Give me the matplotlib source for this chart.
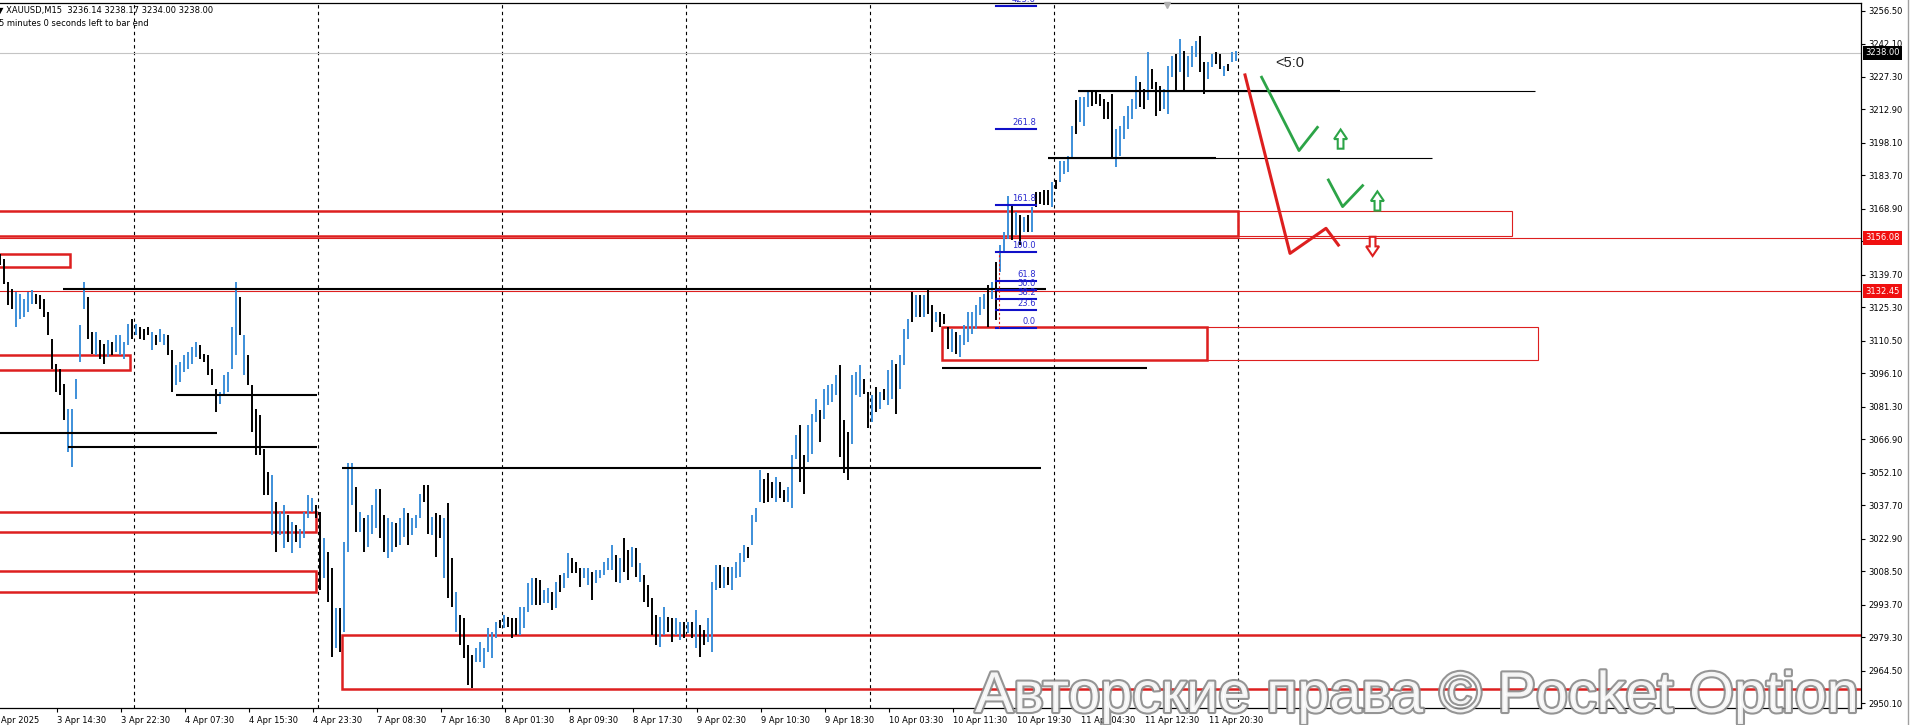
import numpy as np
import matplotlib.pyplot as plt
import matplotlib.patheffects as pe
from matplotlib.patches import Rectangle, Polygon
from matplotlib.lines import Line2D

# XAUUSD M15 - drawn as 30 minute bars (x unit = one M15 bar)
bar_hi = [
    3149.0, 3146.8, 3136.5, 3133.6, 3132.1, 3131.4, 3129.1, 3132.1, 3132.8, 3131.4,
    3130.6, 3129.1, 3123.2, 3111.5, 3100.4, 3098.2, 3091.6, 3080.5, 3080.5, 3093.8,
    3117.4, 3136.5, 3129.9, 3114.4, 3114.4, 3110.7, 3109.2, 3110.7, 3110.0, 3112.9,
    3112.9, 3110.0, 3118.1, 3120.3, 3118.1, 3116.6, 3115.9, 3116.6, 3114.4, 3112.9,
    3115.9, 3113.7, 3112.9, 3106.3, 3099.7, 3101.1, 3104.1, 3105.6, 3107.8, 3110.0,
    3108.5, 3104.8, 3104.1, 3098.2, 3089.3, 3087.9, 3095.2, 3096.7, 3116.6, 3136.5,
    3129.9, 3112.9, 3104.1, 3090.8, 3080.5, 3077.6, 3062.8, 3052.5, 3051.0, 3039.2,
    3034.8, 3037.8, 3033.3, 3030.4, 3028.9, 3027.4, 3034.8, 3042.2, 3040.7, 3037.8,
    3034.8, 3023.0, 3017.1,
    3009.8, 2992.1, 2992.1, 3021.6, 3056.2, 3056.2, 3045.9, 3034.8, 3031.9, 3033.3,
    3037.8, 3045.1, 3045.1, 3033.3, 3031.9, 3030.4, 3029.7, 3031.9, 3036.3, 3034.1,
    3031.9, 3033.3, 3042.9, 3046.6, 3046.6, 3032.6, 3034.1, 3033.3, 3031.9, 3038.5,
    3014.2, 2999.5, 2989.1, 2987.7, 2975.9, 2971.4, 2974.4, 2977.3, 2974.4, 2983.2,
    2981.8, 2986.2, 2986.9, 2989.1, 2988.4, 2987.7, 2987.7, 2992.8, 2992.8, 3003.1,
    3005.3, 3005.3, 3004.6, 3000.2, 3000.9, 2999.5, 3003.9, 3006.8, 3007.6, 3016.4,
    3014.2, 3012.7, 3009.8, 3009.8, 3009.8, 3008.3, 3009.0, 3009.0, 3012.7, 3014.2,
    3020.1, 3015.7, 3014.2, 3023.0, 3017.9, 3019.3, 3018.6, 3012.0, 3006.8, 3002.4,
    2996.5, 2989.1, 2988.4, 2992.8, 2988.4, 2987.6, 2987.6, 2986.2, 2986.2, 2986.2,
    2986.2, 2991.3, 2984.7, 2982.5, 2987.6, 3003.8, 3011.2, 3011.2, 3010.5, 3010.5,
    3010.5, 3012.7, 3016.4, 3020.1, 3019.3, 3033.3, 3036.3, 3053.2, 3049.5, 3051.8,
    3048.1, 3050.3, 3048.1, 3044.4, 3045.9, 3059.9, 3068.7, 3073.1, 3059.9, 3073.1,
    3078.3, 3084.9, 3079.8, 3089.3, 3090.8, 3091.5, 3095.2, 3099.6, 3075.3, 3070.2,
    3095.2, 3096.7, 3099.6, 3093.8, 3087.9, 3086.4, 3090.1, 3087.9, 3089.3, 3097.4,
    3101.9, 3100.4, 3104.1, 3115.9, 3120.3, 3132.1, 3130.6, 3130.6, 3130.6, 3132.8,
    3126.2, 3123.2, 3123.2, 3122.5, 3116.6, 3115.9, 3114.4, 3112.9, 3117.3, 3123.2,
    3123.2, 3126.2, 3129.9, 3131.4, 3135.0, 3136.5, 3145.4, 3152.7, 3158.6, 3174.8,
    3170.4, 3167.5, 3166.0, 3165.3, 3166.0, 3169.7, 3176.3, 3176.3, 3177.1, 3177.1,
    3180.7, 3181.5, 3190.3, 3190.3, 3192.5, 3205.8, 3216.9, 3218.3, 3218.3, 3220.5,
    3220.5, 3220.5, 3219.8, 3217.6, 3216.1, 3219.8, 3204.3, 3205.8, 3210.2, 3214.6,
    3217.6, 3227.9, 3225.0, 3222.0, 3238.2, 3230.8, 3225.0, 3223.5, 3222.0, 3232.3,
    3236.7, 3237.5, 3244.1, 3239.0, 3236.7, 3241.2, 3243.4, 3245.6, 3233.8, 3233.8,
    3237.5, 3238.2, 3237.5, 3232.3, 3233.1, 3238.2, 3239.0,
]
bar_lo = [
    3143.9, 3135.8, 3126.2, 3124.7, 3116.6, 3120.3, 3121.0, 3123.3, 3126.9, 3126.9,
    3124.7, 3121.0, 3112.9, 3098.2, 3087.9, 3086.4, 3075.3, 3061.3, 3054.7, 3084.9,
    3101.1, 3124.7, 3111.5, 3104.8, 3104.1, 3102.6, 3100.4, 3103.3, 3104.1, 3105.6,
    3104.1, 3102.6, 3108.5, 3111.5, 3112.9, 3111.5, 3110.7, 3112.9, 3106.3, 3108.5,
    3110.0, 3108.5, 3104.1, 3087.9, 3090.8, 3092.3, 3096.7, 3098.2, 3100.4, 3103.3,
    3102.6, 3101.1, 3095.2, 3090.8, 3079.0, 3082.7, 3086.4, 3087.9, 3098.2, 3104.1,
    3112.9, 3095.2, 3090.8, 3070.2, 3059.9, 3059.9, 3042.2, 3042.2, 3024.5, 3017.1,
    3024.5, 3018.6, 3021.5, 3016.4, 3021.5, 3018.6, 3023.0, 3031.9, 3034.8, 3031.9,
    3000.0, 3005.3, 2995.0,
    2970.7, 2974.4, 2972.9, 2981.8, 3017.1, 3037.8, 3026.0, 3026.0, 3017.1, 3019.3,
    3025.2, 3027.5, 3023.0, 3017.1, 3014.2, 3017.1, 3019.3, 3020.1, 3023.8, 3020.1,
    3024.5, 3027.5, 3031.9, 3039.3, 3025.2, 3024.5, 3014.9, 3023.0, 3005.3, 2996.5,
    2992.8, 2981.8, 2975.9, 2970.0, 2958.2, 2957.0, 2968.5, 2968.5, 2965.6, 2972.9,
    2970.0, 2978.8, 2983.2, 2983.2, 2984.0, 2978.8, 2980.3, 2980.3, 2983.2, 2990.6,
    2993.6, 2993.6, 2993.6, 2994.3, 2994.3, 2991.4, 2992.1, 2999.5, 3000.9, 3005.3,
    3007.6, 3007.6, 3001.7, 3005.3, 3002.4, 2995.8, 3003.1, 3005.3, 3006.8, 3009.0,
    3009.0, 3003.9, 3003.1, 3008.3, 3004.6, 3010.5, 3006.1, 3003.9, 2995.0, 2992.8,
    2980.3, 2975.9, 2975.1, 2980.3, 2981.7, 2977.3, 2980.3, 2978.1, 2978.8, 2981.0,
    2978.8, 2974.4, 2970.7, 2975.9, 2977.3, 2972.9, 3000.2, 3000.9, 3000.9, 3002.4,
    3000.2, 3005.3, 3006.1, 3012.7, 3014.2, 3020.1, 3030.4, 3039.2, 3038.5, 3039.2,
    3040.7, 3039.2, 3040.7, 3039.2, 3039.2, 3036.3, 3058.4, 3048.1, 3042.9, 3056.9,
    3060.6, 3074.6, 3065.8, 3076.1, 3082.0, 3083.4, 3086.4, 3059.1, 3051.8, 3048.8,
    3065.0, 3086.4, 3085.6, 3087.1, 3071.7, 3074.6, 3079.0, 3080.5, 3084.2, 3082.0,
    3084.9, 3078.3, 3089.3, 3099.6, 3111.4, 3118.8, 3121.0, 3121.0, 3121.0, 3122.5,
    3114.4, 3118.8, 3116.6, 3118.1, 3107.0, 3105.6, 3104.8, 3103.3, 3108.5, 3110.0,
    3113.7, 3115.9, 3121.8, 3124.7, 3116.6, 3129.1, 3119.6, 3140.9, 3149.8, 3155.7,
    3155.0, 3157.2, 3152.7, 3158.6, 3158.6, 3158.6, 3169.7, 3171.2, 3170.4, 3170.4,
    3169.7, 3177.8, 3180.7, 3184.4, 3185.2, 3191.1, 3202.1, 3207.3, 3205.8, 3213.9,
    3214.6, 3215.4, 3214.6, 3208.7, 3208.7, 3191.1, 3187.4, 3192.5, 3199.9, 3204.3,
    3208.7, 3213.2, 3213.9, 3213.2, 3216.9, 3222.0, 3210.2, 3212.4, 3213.2, 3211.0,
    3227.2, 3221.3, 3229.4, 3221.3, 3227.2, 3231.6, 3236.0, 3229.4, 3219.8, 3226.4,
    3231.6, 3233.1, 3230.8, 3227.9, 3230.1, 3233.8, 3234.5,
]
bar_dir = ("dddduuuuud" "ddddddduuu" "uudduddudu" "uuududddud" "uudduuuuuu"
           "ddddduuuuu" "duddddddud" "uududuuuud" "dud"
           "duduuududu" "uudduuduud" "uuudduddud" "dudddduuuu" "uududdduuu"
           "udduududuu" "ddduuduuuu" "ududdududd"
           "dduudduudu" "dudduuudud" "uuuuduuudd" "dudduuuddu" "uuduuuuddd"
           "uuuddududu" "uduuududud" "duddduduuu"
           "uuuududuuu" "dudududddd" "uduuuuduuu" "dddddduuuu" "uudduddduu"
           "ududuuuddu" "udduduu")

# axis
price_ticks = [3256.50, 3242.10, 3227.30, 3212.90, 3198.10, 3183.70, 3168.90, 3154.50,
               3139.70, 3125.30, 3110.50, 3096.10, 3081.30, 3066.90, 3052.10, 3037.70,
               3022.90, 3008.50, 2993.70, 2979.30, 2964.50, 2950.10]
time_ticks = [28.5, 60.5, 92.5, 124.5, 156.5, 188.5, 220.5, 252.5, 284.5, 316.5,
              348.5, 380.5, 412.5, 444.5, 476.5, 508.5, 540.5, 572.5, 604.5]
time_labels = ["3 Apr 14:30", "3 Apr 22:30", "4 Apr 07:30", "4 Apr 15:30", "4 Apr 23:30",
               "7 Apr 08:30", "7 Apr 16:30", "8 Apr 01:30", "8 Apr 09:30", "8 Apr 17:30",
               "9 Apr 02:30", "9 Apr 10:30", "9 Apr 18:30", "10 Apr 03:30", "10 Apr 11:30",
               "10 Apr 19:30", "11 Apr 04:30", "11 Apr 12:30", "11 Apr 20:30"]
day_separators = [67.2, 159.2, 251.2, 343.2, 435.2, 527.2, 619.2]

last_price = 3238.00
red_levels = [3156.08, 3132.45]

# zones: (start, end, low, high)
zones_thick = [(-5, 35, 3143.3, 3148.9), (-5, 65, 3097.6, 3104.2),
               (-5, 158, 3026.0, 3034.8), (-5, 158, 2999.4, 3008.7),
               (-5, 619, 3156.9, 3168.1), (471, 603.5, 3102.0, 3116.8),
               (170.8, 945, 2956.4, 2980.3)]
zones_thin = [(619, 756, 3156.9, 3168.1), (603.5, 769, 3102.0, 3116.8)]

# horizontal levels: (start, end, price, width)
levels = [(31.7, 522.8, 3133.5, 1.5), (88, 158.5, 3086.7, 1.5), (-5, 108.5, 3069.8, 1.5),
          (34, 158.5, 3063.3, 1.5), (170.8, 520.5, 3054.0, 1.5), (471, 573.3, 3098.6, 1.5),
          (524, 608, 3191.3, 1.5), (524, 716, 3191.3, 0.8),
          (539, 670, 3221.3, 1.5), (539, 767.5, 3221.3, 0.8)]

# fibonacci
fib_levels = [0.0, 23.6, 38.2, 50.0, 61.8, 100.0, 161.8, 261.8, 423.6]
fib_p0, fib_p100 = 3116.0, 3149.7
fib_x0, fib_x1 = 498, 518

# projections
red_path_t = [622.5, 645.0, 663.0, 669.2]
red_path_p = [3228.2, 3149.2, 3160.3, 3152.9]
green1_t = [630.8, 649.5, 658.7]
green1_p = [3227.2, 3194.7, 3205.0]
green2_t = [664.2, 671.3, 681.3]
green2_p = [3181.7, 3169.9, 3179.2]
arrow_t = [670.3, 688.7, 686.3]
arrow_p = [3199.8, 3172.4, 3152.3]
arrow_up = [True, True, False]

UP_C = '#3d8fd9'
RED = '#dd1f1f'
GREEN = '#2ca447'
FS = 6

fig = plt.figure(figsize=(19.11, 7.25), dpi=100)
ax = fig.add_axes([0, 17 / 725, 1861 / 1911, 705 / 725])
ax.set_xlim(0, 930.5)
ax.set_ylim(2947.96, 3260.04)

# bars
n = len(bar_hi)
xs = np.arange(n) * 2
cols = [UP_C if d == 'u' else 'black' for d in bar_dir]
ax.vlines(xs, bar_lo, bar_hi, colors=cols, linewidth=1.4, zorder=3)

# separators
for s in day_separators:
    ax.axvline(s, color='black', lw=0.8, ls=(0, (3, 3)), zorder=1)

# zones
for x0, x1, lo, hi in zones_thick:
    ax.add_patch(Rectangle((x0, lo), x1 - x0, hi - lo, fill=False, ec=RED, lw=1.8, zorder=2))
for x0, x1, lo, hi in zones_thin:
    ax.add_patch(Rectangle((x0, lo), x1 - x0, hi - lo, fill=False, ec=RED, lw=0.8, zorder=2))
for p in red_levels:
    ax.axhline(p, color=RED, lw=0.8, zorder=2)
ax.axhline(last_price, color='#c4c4c4', lw=0.8, zorder=1)

for x0, x1, p, w in levels:
    ax.plot([x0, x1], [p, p], color='black', lw=w, zorder=4, solid_capstyle='butt')

# fib
for lv in fib_levels:
    p = fib_p0 + (fib_p100 - fib_p0) * lv / 100
    ax.plot([fib_x0, fib_x1], [p, p], color='#1010c8', lw=1.5, zorder=5)
    ax.annotate(f'{lv:.1f}', (fib_x1, p), xytext=(0, 1.5), textcoords='offset points',
                ha='right', va='bottom', fontsize=FS, color='#2a2ad0', zorder=6,
                annotation_clip=True)
ax.plot([fib_x0 + 1.5, fib_x0 + 1.5], [fib_p0, fib_p100], color=RED, lw=0.8,
        ls=(0, (2, 2)), zorder=5)

# projections
ax.plot(red_path_t, red_path_p, color=RED, lw=2.2, zorder=6)
ax.plot(green1_t, green1_p, color=GREEN, lw=2.0, zorder=6)
ax.plot(green2_t, green2_p, color=GREEN, lw=2.0, zorder=6)
for t, p, up in zip(arrow_t, arrow_p, arrow_up):
    w, h = 6.5, 8.5
    sx = 0.22 * w
    sgn = 1 if up else -1
    pts = [(t - sx, p - sgn * h / 2), (t + sx, p - sgn * h / 2), (t + sx, p),
           (t + w / 2, p), (t, p + sgn * h / 2), (t - w / 2, p), (t - sx, p)]
    ax.add_patch(Polygon(pts, closed=True, fc='white', ec=GREEN if up else RED,
                         lw=1.5, zorder=7))
ax.text(637.5, 3233.7, '<5:0', fontsize=10.5, family='Liberation Sans', color='#222222',
        va='center', ha='left', zorder=7)

# axes style
for sp in ['left']:
    ax.spines[sp].set_visible(False)
for sp in ['right', 'top', 'bottom']:
    ax.spines[sp].set_color('black')
    ax.spines[sp].set_linewidth(0.9)
ax.yaxis.tick_right()
ax.set_yticks(price_ticks, labels=[f'{v:.2f}' for v in price_ticks])
ax.tick_params(axis='y', length=3, width=0.8, pad=2, labelsize=FS)
ax.set_xticks(time_ticks, labels=time_labels)
ax.tick_params(axis='x', length=3, width=0.8, pad=3, labelsize=FS)
for t in ax.get_xticklabels():
    t.set_horizontalalignment('left')
ax.text(-3.5, -8 / 705, '3 Apr 2025', transform=ax.get_xaxis_transform(), fontsize=FS,
        va='top', ha='left', clip_on=False)

# price boxes on the axis
for p, fc in [(last_price, 'black'), (red_levels[0], '#f01010'), (red_levels[1], '#f01010')]:
    ax.annotate(f'{p:.2f}', (1.0, p), xycoords=('axes fraction', 'data'),
                xytext=(4, 0), textcoords='offset pixels', fontsize=FS, color='white',
                va='center', ha='left', annotation_clip=False, zorder=10,
                bbox=dict(boxstyle='square,pad=0.3', fc=fc, ec='none'))

ax.plot([583.5], [3259.0], marker='v', color='#b0b0b0', ms=4, zorder=6, clip_on=False)

# header
fig.text(-3 / 1911, 1 - 11 / 725, '\u25bc XAUUSD,M15  3236.14 3238.17 3234.00 3238.00',
         fontsize=FS, va='center', ha='left')
fig.text(-1 / 1911, 1 - 24 / 725, '5 minutes 0 seconds left to bar end',
         fontsize=FS, va='center', ha='left')

fig.add_artist(Line2D([1908 / 1911] * 2, [0, 1], color='#a0a0a0', lw=1))

# watermark
fig.text(975 / 1911, 13 / 725, 'Авторские права © Pocket Option', fontsize=41.4,
         family='Liberation Sans', color='white', alpha=0.9, va='baseline', ha='left',
         zorder=20, path_effects=[pe.withStroke(linewidth=3, foreground='#8a8a8a')])

fig.savefig('out.png', dpi=100)
